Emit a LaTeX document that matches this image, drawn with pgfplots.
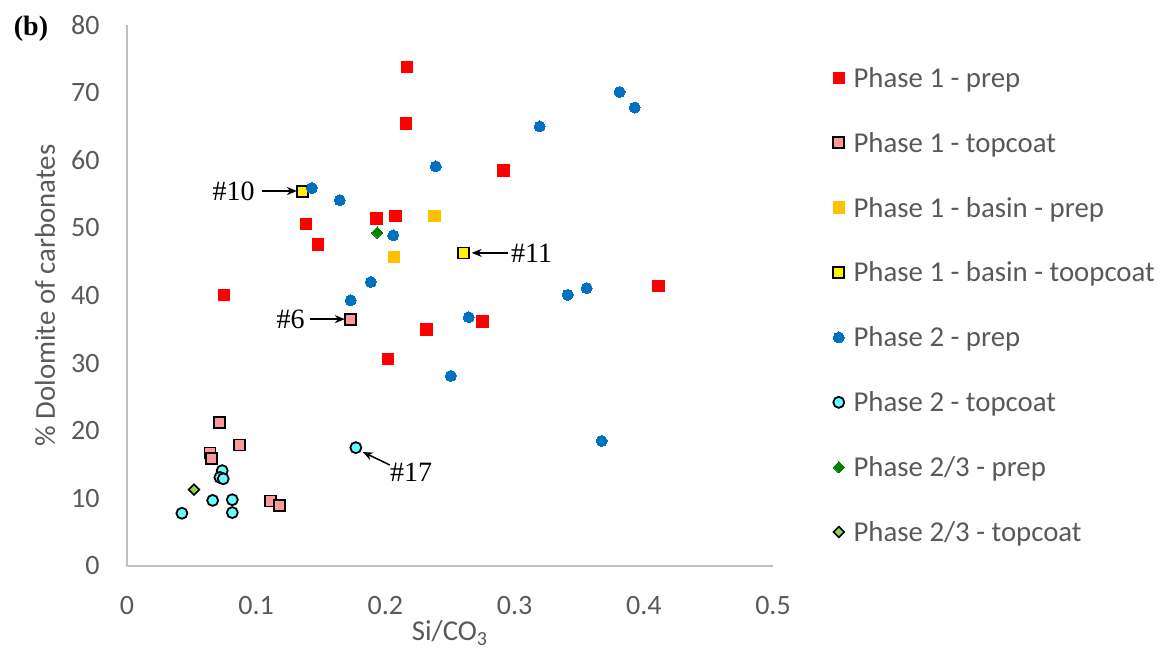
\documentclass[border=0pt]{standalone}
\usepackage{fontspec}
\setmainfont{Carlito}
\newfontfamily\timesfont{Liberation Serif}
\usepackage{pgfplots}
\pgfplotsset{compat=1.18}
\usetikzlibrary{arrows.meta}

\definecolor{txtgrey}{HTML}{595959}
\definecolor{axgrey}{HTML}{BFBFBF}
\definecolor{pinkc}{HTML}{FF9999}
\definecolor{orangec}{HTML}{FFC000}
\definecolor{bluec}{HTML}{0070C0}
\definecolor{cyanc}{HTML}{66FFFF}
\definecolor{dgreen}{HTML}{008000}
\definecolor{lgreen}{HTML}{92D050}

\begin{document}
\begin{tikzpicture}
\useasboundingbox (-63.5pt,-47.5pt) rectangle (521pt,283pt);
\begin{axis}[
  at={(0pt,0pt)}, anchor=south west, scale only axis,
  width=323pt, height=270.5pt,
  xmin=0, xmax=0.5, ymin=0, ymax=80,
  xtick={0,0.1,0.2,0.3,0.4,0.5},
  ytick={0,10,20,30,40,50,60,70,80},
  axis x line=bottom, axis y line=left,
  axis line style={draw=axgrey, line width=0.75pt, -},
  major tick length=0pt, tick style={draw=none},
  /pgf/number format/assume math mode=true,
  ticklabel style={font=\fontsize{14}{16}\selectfont, text=txtgrey, inner sep=0pt},
  xticklabel style={anchor=north, yshift=-15pt},
  yticklabel style={anchor=east, xshift=-13.5pt},
  xlabel={Si/CO\textsubscript{3}},
  ylabel={\% Dolomite of carbonates},
  label style={font=\fontsize{14.4}{16}\selectfont, text=txtgrey},
  xlabel style={at={(axis description cs:0.5,-0.1238)}, anchor=center},
  ylabel style={at={(axis description cs:-0.1269,0.5)}, anchor=center},
  clip=false,
  legend cell align=left,
  legend image code/.code={\draw[#1] plot coordinates {(3pt,1.15pt)};},
  legend style={
    at={(rel axis cs:1.0929,0.9218)}, anchor=north west,
    draw=none, fill=none, inner sep=0pt, outer sep=0pt,
    font=\fontsize{14.4}{16}\selectfont, text=txtgrey,
    row sep=19.43pt,
    nodes={inner sep=0pt, text height=10pt, text depth=3pt},
    /tikz/every odd column/.append style={column sep=4.5pt},
  },
]
% Phase 1 - prep
\addplot[only marks, mark=square*, mark size=2.9pt, draw=red, fill=red, line width=0pt]
  coordinates {(0.2166,73.8) (0.2158,65.4) (0.2916,58.5) (0.1931,51.4) (0.2078,51.75)
  (0.1384,50.6) (0.1477,47.5) (0.0750,40.1) (0.4114,41.4) (0.2320,35.0)
  (0.2753,36.2) (0.2019,30.6)};
\addlegendentry{Phase 1 - prep}
% Phase 1 - topcoat
\addplot[only marks, mark=square*, mark size=2.75pt, draw=black, fill=pinkc, line width=0.9pt]
  coordinates {(0.1732,36.5) (0.0714,21.25) (0.0869,17.9) (0.0642,16.7) (0.0652,15.9)
  (0.1111,9.6) (0.1183,8.9)};
\addlegendentry{Phase 1 - topcoat}
% Phase 1 - basin - prep
\addplot[only marks, mark=square*, mark size=2.9pt, draw=orangec, fill=orangec, line width=0pt]
  coordinates {(0.2382,51.75) (0.2067,45.7)};
\addlegendentry{Phase 1 - basin - prep}
% Phase 1 - basin - toopcoat
\addplot[only marks, mark=square*, mark size=2.75pt, draw=black, fill=yellow, line width=0.9pt]
  coordinates {(0.1361,55.4) (0.2606,46.3)};
\addlegendentry{Phase 1 - basin - toopcoat}
% Phase 2 - prep
\addplot[only marks, mark=*, mark size=2.75pt, draw=bluec, fill=bluec, line width=0pt]
  coordinates {(0.1431,55.9) (0.1647,54.1) (0.2060,48.9) (0.1887,42.0) (0.1732,39.3)
  (0.2390,59.1) (0.3194,65.0) (0.3813,70.1) (0.3929,67.8) (0.3411,40.1)
  (0.3558,41.1) (0.2645,36.8) (0.2506,28.1) (0.3674,18.5)};
\addlegendentry{Phase 2 - prep}
% Phase 2 - topcoat
\addplot[only marks, mark=*, mark size=2.75pt, draw=black, fill=cyanc, line width=0.9pt]
  coordinates {(0.1771,17.5) (0.0737,14.1) (0.0719,13.1) (0.0745,12.9) (0.0663,9.7)
  (0.0815,9.8) (0.0815,7.9) (0.0425,7.8)};
\addlegendentry{Phase 2 - topcoat}
% Phase 2/3 - prep
\addplot[only marks, mark=square*, mark size=2pt, draw=dgreen, fill=dgreen, line width=0pt, mark options={rotate=45}]
  coordinates {(0.1936,49.3)};
\addlegendentry{Phase 2/3 - prep}
% Phase 2/3 - topcoat
\addplot[only marks, mark=square*, mark size=1.9pt, draw=black, fill=lgreen, line width=0.8pt, mark options={rotate=45}]
  coordinates {(0.0518,11.3)};
\addlegendentry{Phase 2/3 - topcoat}

% sample labels
\draw[-{Stealth[length=5pt,width=4pt]}, line width=0.75pt] (axis cs:0.1044,55.45) -- (axis cs:0.1315,55.45);
\node[anchor=east, inner sep=0pt, font=\timesfont\fontsize{14}{16}\selectfont] at (axis cs:0.0990,55.45) {\#10};
\draw[-{Stealth[length=5pt,width=4pt]}, line width=0.75pt] (axis cs:0.2947,46.3) -- (axis cs:0.2668,46.3);
\node[anchor=west, inner sep=0pt, font=\timesfont\fontsize{14}{16}\selectfont] at (axis cs:0.2970,46.3) {\#11};
\draw[-{Stealth[length=5pt,width=4pt]}, line width=0.75pt] (axis cs:0.1415,36.5) -- (axis cs:0.1686,36.5);
\node[anchor=east, inner sep=0pt, font=\timesfont\fontsize{14}{16}\selectfont] at (axis cs:0.1377,36.5) {\#6};
\draw[-{Stealth[length=5pt,width=4pt]}, line width=0.75pt] (axis cs:0.2034,14.94) -- (axis cs:0.1825,16.86);
\node[anchor=west, inner sep=0pt, font=\timesfont\fontsize{14}{16}\selectfont] at (axis cs:0.2034,13.8) {\#17};
\node[anchor=center, inner sep=0pt, font=\timesfont\bfseries\fontsize{14}{16}\selectfont] at (rel axis cs:-0.1486,0.9926) {(b)};
\end{axis}
\end{tikzpicture}
\end{document}
